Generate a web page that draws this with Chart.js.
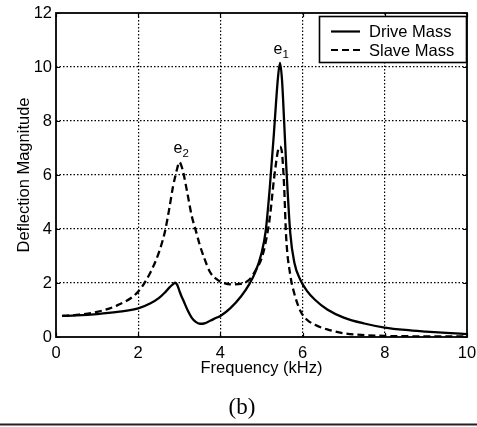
<!DOCTYPE html>
<html>
<head>
<meta charset="utf-8">
<script src="https://cdn.jsdelivr.net/npm/chart.js@4/dist/chart.umd.min.js"></script>
<style>
html,body{margin:0;padding:0;background:#fff;}
#wrap{width:477px;height:427px;position:relative;}
</style>
</head>
<body>
<div id="wrap"><canvas id="c" width="477" height="427"></canvas></div>
<script>
// ---- data ----
const freq = [0.15,0.5,1.0,1.5,2.0,2.3,2.5,2.65,2.75,2.85,2.9,2.95,3.0,3.05,3.1,3.2,3.3,3.4,3.5,3.6,3.75,3.9,4.0,4.25,4.5,4.7,4.85,5.0,5.1,5.2,5.3,5.35,5.4,5.45,5.5,5.55,5.6,5.7,5.8,5.95,6.1,6.3,6.6,7.0,7.5,8.0,8.5,9.0,9.5,10.0];
const driveMass = [0.78,0.80,0.85,0.93,1.06,1.25,1.44,1.65,1.82,1.96,2.01,1.93,1.72,1.52,1.35,1.0,0.72,0.56,0.49,0.5,0.6,0.71,0.78,1.08,1.5,1.95,2.4,3.1,3.9,5.5,7.5,8.6,9.6,10.15,9.5,8.0,6.4,3.85,2.75,2.1,1.72,1.38,1.02,0.72,0.5,0.35,0.26,0.2,0.15,0.11];
const slaveMass = [0.78,0.82,0.93,1.18,1.68,2.4,3.12,3.9,4.7,5.6,5.94,6.25,6.48,6.35,6.07,5.3,4.5,3.95,3.4,2.95,2.4,2.15,2.05,1.95,1.97,2.12,2.45,2.9,3.5,4.4,5.8,6.4,6.9,7.05,6.8,5.6,3.7,2.3,1.6,0.95,0.65,0.45,0.28,0.14,0.07,0.04,0.03,0.02,0.02,0.02];
const seriesNames = ["Drive Mass","Slave Mass"];
const xTicks = [0,2,4,6,8,10];
const yTicks = [0,2,4,6,8,10,12];
const peakLabels = [{name:"e", sub:"1", x:5.4, y:10.65},{name:"e", sub:"2", x:2.97, y:6.98}];
const caption = "(b)";

const FONT = "'Liberation Sans', Arial, Helvetica, sans-serif";
const FS = 16.5;

const framePlugin = {
  id:'frame',
  afterDraw(chart){
    const {ctx, chartArea:a, scales} = chart;
    ctx.save();
    // inward tick marks
    ctx.strokeStyle='#000'; ctx.lineWidth=1.2; ctx.setLineDash([]);
    ctx.beginPath();
    xTicks.forEach(v=>{ const px=Math.round(scales.x.getPixelForValue(v))+0.5;
      ctx.moveTo(px,a.bottom); ctx.lineTo(px,a.bottom-4); ctx.moveTo(px,a.top); ctx.lineTo(px,a.top+4); });
    yTicks.forEach(v=>{ const py=Math.round(scales.y.getPixelForValue(v))+0.5;
      ctx.moveTo(a.left,py); ctx.lineTo(a.left+4,py); ctx.moveTo(a.right,py); ctx.lineTo(a.right-4,py); });
    ctx.stroke();
    // frame
    ctx.lineWidth=1.8;
    ctx.strokeRect(a.left, a.top, a.right-a.left, a.bottom-a.top);
    // peak labels
    ctx.fillStyle='#000';
    peakLabels.forEach(p=>{
      const px = scales.x.getPixelForValue(p.x), py = scales.y.getPixelForValue(p.y);
      ctx.font = "16px "+FONT; ctx.textAlign='center'; ctx.textBaseline='middle';
      ctx.fillText(p.name, px, py);
      ctx.font = "11.5px "+FONT; ctx.textAlign='left';
      ctx.fillText(p.sub, px+4.5, py+5);
    });
    // legend box
    const lx=319, ly=16, lw=147, lh=46;
    ctx.fillStyle='#fff'; ctx.fillRect(lx,ly,lw,lh);
    ctx.strokeStyle='#000'; ctx.lineWidth=1.6; ctx.strokeRect(lx+0.5,ly+0.5,lw,lh);
    chart.data.datasets.forEach((ds,i)=>{
      const yy = ly + 15.5 + i*18.5;
      ctx.beginPath(); ctx.lineWidth=2.2; ctx.setLineDash(ds.borderDash||[]);
      ctx.moveTo(lx+12, yy); ctx.lineTo(lx+41, yy); ctx.stroke();
      ctx.setLineDash([]);
      ctx.fillStyle='#000'; ctx.font=FS+"px "+FONT; ctx.textAlign='left'; ctx.textBaseline='middle';
      ctx.fillText(ds.label, lx+50, yy+1);
    });
    // caption + rule
    ctx.font = "23px 'Liberation Serif', 'Times New Roman', serif";
    ctx.textAlign='center'; ctx.textBaseline='middle'; ctx.fillStyle='#000';
    ctx.fillText(caption, 242, 408);
    ctx.beginPath(); ctx.lineWidth=2; ctx.strokeStyle='#222';
    ctx.moveTo(0,424.5); ctx.lineTo(477,424.5); ctx.stroke();
    ctx.restore();
  }
};

const gridColor = (ctx)=> (ctx.tick && (ctx.tick.value===0 || ctx.tick.value===ctx.scale.max)) ? 'rgba(0,0,0,0)' : '#000';

new Chart(document.getElementById('c'), {
  type:'line',
  data:{
    datasets:[
      {label:seriesNames[0], data:freq.map((f,i)=>({x:f,y:driveMass[i]})), borderColor:'#000', borderWidth:2.3, pointRadius:0, cubicInterpolationMode:'monotone', fill:false},
      {label:seriesNames[1], data:freq.map((f,i)=>({x:f,y:slaveMass[i]})), borderColor:'#000', borderWidth:2.3, borderDash:[7,4], pointRadius:0, cubicInterpolationMode:'monotone', fill:false}
    ]
  },
  options:{
    responsive:false, animation:false,
    layout:{padding:{left:0, top:13, right:10, bottom:49}},
    plugins:{legend:{display:false}, tooltip:{enabled:false}},
    scales:{
      x:{type:'linear', min:0, max:10,
        afterBuildTicks(s){ s.ticks = xTicks.map(v=>({value:v})); },
        afterFit(s){ s.height = 41; s.paddingLeft = 0; s.paddingRight = 0; },
        grid:{color:gridColor, lineWidth:1.2, drawTicks:false},
        border:{display:false, dash:[1.5,2]},
        ticks:{color:'#000', padding:7, maxRotation:0, font:{family:FONT, size:FS}},
        title:{display:true, text:'Frequency (kHz)', color:'#000', font:{family:FONT, size:FS}, padding:{top:0,bottom:0}}
      },
      y:{type:'linear', min:0, max:12,
        afterBuildTicks(s){ s.ticks = yTicks.map(v=>({value:v})); },
        afterFit(s){ s.width = 56; s.paddingTop = 0; s.paddingBottom = 0; },
        grid:{color:gridColor, lineWidth:1.2, drawTicks:false},
        border:{display:false, dash:[1.5,2]},
        ticks:{color:'#000', padding:4, font:{family:FONT, size:FS}},
        title:{display:true, text:'Deflection Magnitude', color:'#000', font:{family:FONT, size:FS}, padding:{top:15,bottom:0}}
      }
    }
  },
  plugins:[framePlugin]
});
</script>
</body>
</html>
